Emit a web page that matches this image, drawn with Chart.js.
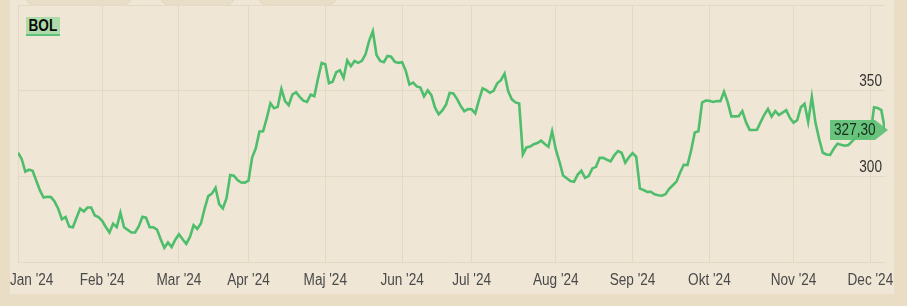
<!DOCTYPE html>
<html>
<head>
<meta charset="utf-8">
<script src="https://cdn.jsdelivr.net/npm/chart.js@4.4.1/dist/chart.umd.min.js"></script>
<style>
  html, body { margin: 0; padding: 0; }
  body { width: 907px; height: 306px; background: #e9ddc6; position: relative; overflow: hidden; font-family: "Liberation Sans", Arial, sans-serif; }
  #panel { position: absolute; left: 10px; top: 0; width: 884px; height: 294px; background: #efe6d5; }
  .knap { position: absolute; top: -19px; height: 23px; border-radius: 10px; background: #e8dec8; border: 1px solid #e2d6bd; }
  #wrap { position: absolute; left: 0; top: 0; width: 907px; height: 306px; }
  #legende { position: absolute; left: 26px; top: 17px; width: 34px; height: 17px; background: #afdaa9; border-bottom: 2px solid #5fc27a;
             font-weight: bold; font-size: 16px; line-height: 18px; color: #0b0b0b; text-align: center; }
  #legende span { display: inline-block; transform: scaleX(0.85); }
</style>
</head>
<body>
<div id="panel"></div>
<div class="knap" style="left:25px;width:105px"></div>
<div class="knap" style="left:160px;width:73px"></div>
<div class="knap" style="left:258px;width:77px"></div>
<div id="wrap"><canvas id="grafBOL"></canvas></div>
<div id="legende"><span>BOL</span></div>
<script>
// BOL lukkekurser 2024, en pr. handelsdag
const kurser = [
  314.0, 310.4, 303.0, 304.1, 303.5, 297.7, 292.1, 287.9, 288.4, 288.2,
  285.6, 281.4, 275.3, 276.6, 271.0, 270.6, 276.2, 281.5, 279.8, 282.1,
  282.1, 277.5, 276.6, 274.4, 270.8, 267.6, 272.7, 270.7, 279.0, 270.6,
  269.1, 267.6, 267.6, 271.1, 276.7, 276.2, 270.7, 270.6, 269.3, 263.7,
  258.7, 261.8, 259.1, 263.4, 266.6, 263.6, 260.9, 265.0, 271.8, 269.6,
  272.8, 281.4, 288.8, 290.2, 293.6, 284.1, 281.6, 287.5, 301.0, 300.6,
  298.1, 296.7, 296.6, 297.8, 311.2, 316.6, 326.4, 326.5, 334.1, 342.8,
  339.9, 340.7, 351.1, 344.0, 341.7, 347.8, 349.2, 346.5, 344.3, 343.6,
  347.8, 346.9, 357.1, 366.3, 365.5, 354.5, 355.3, 360.9, 362.0, 357.5,
  367.7, 364.4, 367.4, 366.3, 367.5, 371.3, 379.3, 384.7, 370.9, 367.4,
  366.7, 370.3, 369.9, 366.9, 366.3, 366.7, 361.7, 353.7, 354.8, 352.6,
  351.9, 346.8, 350.3, 347.5, 340.2, 336.4, 338.6, 341.9, 348.8, 348.5,
  345.4, 341.3, 338.1, 339.4, 339.3, 336.9, 344.6, 351.5, 350.4, 348.9,
  350.0, 354.4, 356.2, 360.0, 349.7, 345.1, 343.3, 342.7, 313.0, 317.1,
  317.6, 319.0, 319.7, 321.0, 319.1, 317.5, 326.5, 316.1, 308.8, 300.8,
  299.2, 297.5, 297.1, 301.3, 303.5, 299.4, 300.4, 304.9, 305.8, 311.1,
  311.0, 309.9, 309.0, 312.5, 315.0, 314.0, 308.2, 311.4, 313.8, 311.6,
  293.1, 292.3, 291.2, 291.3, 289.8, 289.3, 289.0, 289.9, 293.0, 295.1,
  297.2, 302.5, 307.0, 306.8, 315.3, 325.8, 326.5, 343.2, 344.4, 344.2,
  343.6, 344.1, 344.0, 349.5, 343.5, 335.2, 335.2, 335.3, 338.3, 331.8,
  327.3, 327.2, 327.4, 331.8, 336.1, 339.5, 335.0, 338.2, 336.0, 337.4,
  338.8, 334.3, 331.5, 333.0, 340.5, 342.5, 332.0, 346.5, 331.4, 322.0,
  314.0, 313.0, 312.8, 316.4, 319.2, 318.6, 318.1, 318.5, 320.6, 322.8,
  323.6, 322.7, 322.8, 324.0, 340.5, 340.0, 338.8, 327.3
];
const handelsdage = kurser.map((_, i) => i);

// x-aksen: første handelsdag i hver måned
const maanedNavne = ["Jan '24", "Feb '24", "Mar '24", "Apr '24", "Maj '24", "Jun '24",
                     "Jul '24", "Aug '24", "Sep '24", "Okt '24", "Nov '24", "Dec '24"];
const maanedStart = [0, 23, 44, 63, 84, 105, 124, 147, 168, 189, 212, 233];

// y-aksen
const yGitter = [250, 300, 350, 400];
const yEtiketter = [300, 350];

const SKRIFT = '16px "Liberation Sans", Arial, sans-serif';
const KLEM = 0.85; // tekst er smallere i originalen

function tegnTekst(ctx, tekst, x, y, align, farve) {
  ctx.save();
  ctx.translate(x, y);
  ctx.scale(KLEM, 1);
  ctx.font = SKRIFT;
  ctx.fillStyle = farve;
  ctx.textAlign = align;
  ctx.textBaseline = 'middle';
  ctx.fillText(tekst, 0, 0);
  ctx.restore();
}

const aksetekster = {
  id: 'aksetekster',
  afterDraw(chart) {
    const ctx = chart.ctx;
    const xs = chart.scales.x, ys = chart.scales.y;
    ctx.save();
    ctx.font = SKRIFT;
    maanedStart.forEach((idx, i) => {
      const px = xs.getPixelForValue(idx);
      const w = ctx.measureText(maanedNavne[i]).width * KLEM;
      const venstre = Math.max(10, px - w / 2);
      tegnTekst(ctx, maanedNavne[i], venstre, 281, 'left', '#4a4a4a');
    });
    yEtiketter.forEach(v => {
      const py = ys.getPixelForValue(v);
      tegnTekst(ctx, String(v), chart.chartArea.right - 3, py - 9, 'right', '#333333');
    });
    ctx.restore();
  }
};

const kursMaerke = {
  id: 'kursMaerke',
  afterDatasetsDraw(chart) {
    const ctx = chart.ctx;
    const meta = chart.getDatasetMeta(0);
    const sidste = meta.data[meta.data.length - 1];
    const px = sidste.x, py = sidste.y;
    const venstre = px - 55, hojre = px - 10, spids = px + 3, h = 10;
    ctx.save();
    ctx.fillStyle = 'rgba(92, 192, 116, 0.92)';
    ctx.beginPath();
    ctx.moveTo(venstre, py - h);
    ctx.lineTo(hojre, py - h);
    ctx.lineTo(spids, py);
    ctx.lineTo(hojre, py + h);
    ctx.lineTo(venstre, py + h);
    ctx.closePath();
    ctx.fill();
    const tekst = kurser[kurser.length - 1].toFixed(2).replace('.', ',');
    tegnTekst(ctx, tekst, venstre + 4, py + 0.5, 'left', '#17291b');
    ctx.restore();
  }
};

new Chart(document.getElementById('grafBOL'), {
  type: 'line',
  data: {
    labels: handelsdage,
    datasets: [{
      label: 'BOL',
      data: kurser,
      borderColor: '#4fbe6c',
      borderWidth: 2.6,
      pointRadius: 0,
      tension: 0,
      fill: false
    }]
  },
  options: {
    responsive: true,
    maintainAspectRatio: false,
    animation: false,
    layout: { padding: { left: 18, right: 22, top: 5, bottom: 0 } },
    plugins: { legend: { display: false }, tooltip: { enabled: false } },
    scales: {
      x: {
        type: 'linear',
        min: 0,
        max: kurser.length - 1,
        afterBuildTicks: s => { s.ticks = maanedStart.map(v => ({ value: v })); },
        afterFit: s => { s.height = 43.3; },
        ticks: { display: false },
        grid: { color: '#e4d9c2', drawTicks: false },
        border: { display: false }
      },
      y: {
        position: 'right',
        min: 250,
        max: 400,
        afterBuildTicks: s => { s.ticks = yGitter.map(v => ({ value: v })); },
        afterFit: s => { s.width = 0; },
        ticks: { display: false },
        grid: { color: '#e4d9c2', drawTicks: false },
        border: { display: false }
      }
    }
  },
  plugins: [aksetekster, kursMaerke]
});
</script>
</body>
</html>
